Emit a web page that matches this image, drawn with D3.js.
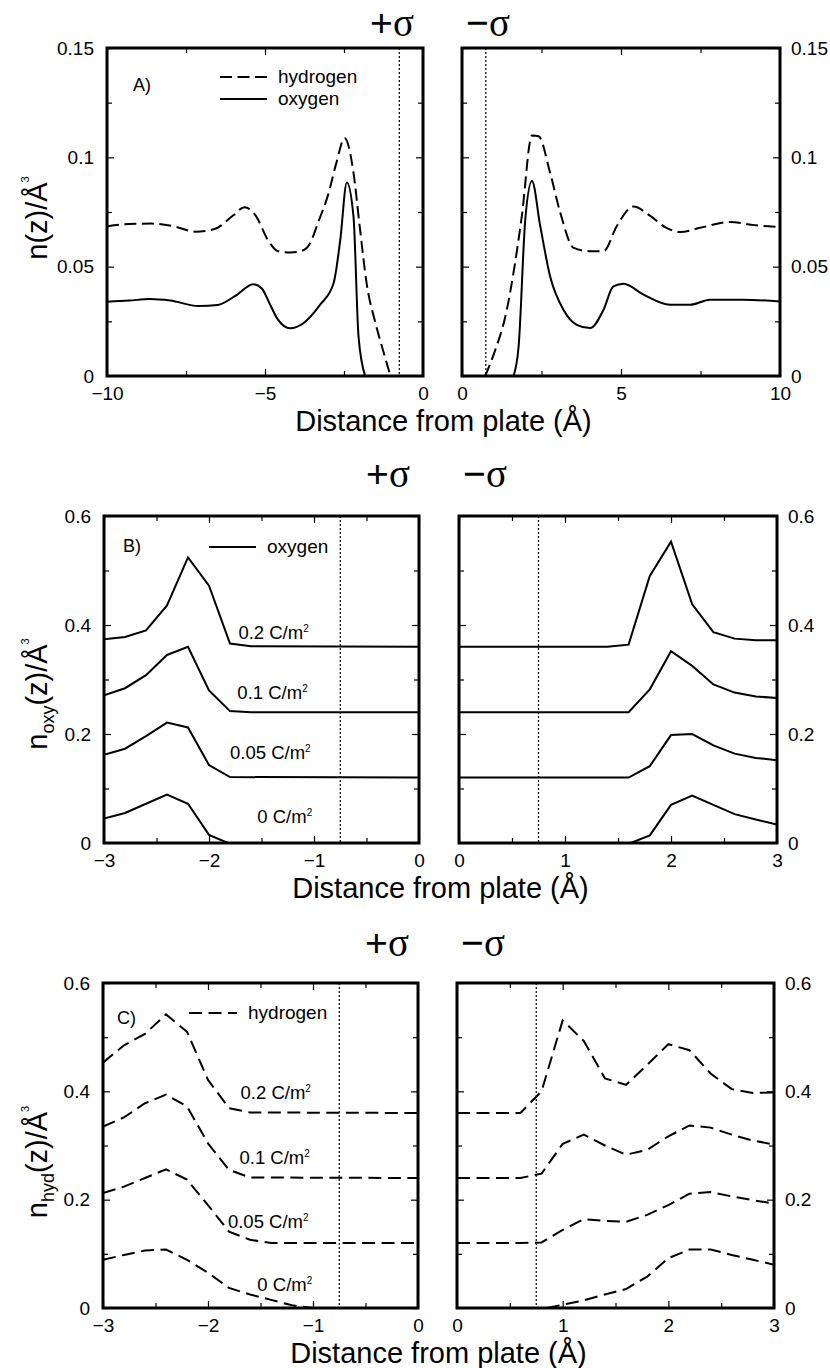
<!DOCTYPE html>
<html>
<head>
<meta charset="utf-8">
<script src="https://cdn.jsdelivr.net/npm/d3@7"></script>
<style>
  body { margin: 0; background: #fff; }
  svg text { font-family: "Liberation Sans", Arial, Helvetica, sans-serif; fill: #000; }
  .axis line { stroke: #000; stroke-width: 1.2; }
  .axis text { font-size: 19px; }
</style>
</head>
<body>
<svg id="chart" width="830" height="1368"></svg>
<script>
/* global d3 */

// ---- Data: panel A, water density vs distance (x in Angstrom, n in 1/A^3)
var aLeftHydrogen = [[-10,0.0684],[-9.3,0.0695],[-8.6,0.0697],[-7.9,0.0685],[-7.2,0.0660],[-6.6,0.0672],[-6.0,0.0735],
  [-5.65,0.0772],[-5.3,0.0735],[-4.9,0.0620],[-4.6,0.0572],[-4.2,0.0565],[-3.84,0.0572],[-3.6,0.060],[-3.3,0.071],
  [-3.0,0.083],[-2.75,0.097],[-2.48,0.1088],[-2.2,0.093],[-2.0,0.068],[-1.78,0.042],[-1.5,0.024],[-1.25,0.011],[-1.03,0]];
var aLeftOxygen = [[-10,0.034],[-9.3,0.0345],[-8.65,0.0352],[-8.0,0.0345],[-7.1,0.032],[-6.5,0.0325],[-5.9,0.037],
  [-5.37,0.042],[-5.1,0.040],[-4.85,0.033],[-4.6,0.026],[-4.2,0.0218],[-3.8,0.024],[-3.26,0.0325],[-2.83,0.0424],
  [-2.62,0.062],[-2.41,0.0885],[-2.2,0.073],[-2.04,0.018],[-1.83,0]];
var aRightHydrogen = [[0.73,0],[1.0,0.010],[1.41,0.0303],[1.65,0.050],[1.88,0.073],[2.2,0.110],[2.41,0.1096],[2.77,0.093],
  [3.09,0.0747],[3.51,0.0586],[4.0,0.0571],[4.45,0.0571],[4.87,0.0686],[5.39,0.0775],[5.92,0.0732],[6.4,0.068],
  [6.86,0.0658],[7.49,0.0678],[8.43,0.0704],[9.2,0.069],[10,0.0681]];
var aRightOxygen = [[1.62,0],[1.78,0.0135],[1.99,0.0716],[2.2,0.0892],[2.46,0.0686],[2.77,0.0456],[3.19,0.0303],
  [3.61,0.0234],[4.03,0.0219],[4.45,0.0303],[4.76,0.041],[5.08,0.0422],[5.71,0.0372],[6.54,0.0326],[7.17,0.0326],
  [7.8,0.0349],[8.85,0.0349],[10,0.0341]];

// ---- Data: panel B, oxygen density for four surface charges
var bLeft02  = [[-3,0.374],[-2.8,0.378],[-2.6,0.390],[-2.4,0.436],[-2.2,0.524],[-2.0,0.472],[-1.8,0.366],[-1.6,0.361],[0,0.36]];
var bLeft01  = [[-3,0.271],[-2.8,0.284],[-2.6,0.308],[-2.4,0.345],[-2.2,0.360],[-2.0,0.280],[-1.8,0.242],[-1.6,0.24],[0,0.24]];
var bLeft005 = [[-3,0.162],[-2.8,0.173],[-2.6,0.196],[-2.4,0.221],[-2.2,0.212],[-2.0,0.143],[-1.8,0.121],[0,0.12]];
var bLeft0   = [[-3,0.045],[-2.8,0.055],[-2.6,0.072],[-2.4,0.089],[-2.2,0.072],[-2.0,0.015],[-1.82,0]];
var bRight02  = [[0,0.36],[1.4,0.36],[1.6,0.364],[1.8,0.490],[2.0,0.553],[2.2,0.438],[2.4,0.387],[2.6,0.375],[2.8,0.372],[3.0,0.372]];
var bRight01  = [[0,0.24],[1.6,0.24],[1.8,0.282],[2.0,0.352],[2.2,0.325],[2.4,0.291],[2.6,0.276],[2.8,0.269],[3.0,0.266]];
var bRight005 = [[0,0.12],[1.6,0.12],[1.8,0.141],[2.0,0.198],[2.2,0.200],[2.4,0.179],[2.6,0.164],[2.8,0.156],[3.0,0.152]];
var bRight0   = [[1.62,0],[1.8,0.014],[2.0,0.070],[2.2,0.087],[2.4,0.070],[2.6,0.053],[2.8,0.043],[3.0,0.034]];

// ---- Data: panel C, hydrogen density for four surface charges
var cLeft02  = [[-3,0.453],[-2.8,0.485],[-2.6,0.506],[-2.4,0.542],[-2.2,0.510],[-2.0,0.421],[-1.8,0.369],[-1.6,0.361],[0,0.36]];
var cLeft01  = [[-3,0.335],[-2.8,0.352],[-2.6,0.378],[-2.4,0.394],[-2.2,0.372],[-2.0,0.304],[-1.8,0.255],[-1.6,0.241],[0,0.24]];
var cLeft005 = [[-3,0.212],[-2.8,0.224],[-2.6,0.240],[-2.4,0.256],[-2.2,0.237],[-2.0,0.190],[-1.8,0.141],[-1.6,0.126],[-1.4,0.12],[0,0.12]];
var cLeft0   = [[-3,0.089],[-2.8,0.098],[-2.6,0.106],[-2.4,0.108],[-2.2,0.089],[-2.0,0.065],[-1.8,0.037],[-1.6,0.025],[-1.4,0.015],[-1.2,0.005],[-1.0,0]];
var cRight02  = [[0,0.36],[0.6,0.36],[0.8,0.40],[1.0,0.531],[1.2,0.493],[1.4,0.424],[1.6,0.412],[1.8,0.449],[2.0,0.487],[2.2,0.476],[2.4,0.433],[2.6,0.404],[2.8,0.397],[3.0,0.398]];
var cRight01  = [[0,0.24],[0.6,0.24],[0.8,0.248],[1.0,0.303],[1.2,0.320],[1.4,0.300],[1.6,0.283],[1.8,0.292],[2.0,0.317],[2.2,0.337],[2.4,0.333],[2.6,0.320],[2.8,0.309],[3.0,0.302]];
var cRight005 = [[0,0.12],[0.6,0.12],[0.8,0.121],[1.0,0.144],[1.2,0.164],[1.4,0.161],[1.6,0.159],[1.8,0.172],[2.0,0.190],[2.2,0.211],[2.4,0.214],[2.6,0.206],[2.8,0.199],[3.0,0.193]];
var cRight0   = [[0.85,0],[1.0,0.006],[1.2,0.014],[1.4,0.025],[1.6,0.035],[1.8,0.058],[2.0,0.092],[2.2,0.108],[2.4,0.108],[2.6,0.098],[2.8,0.089],[3.0,0.080]];

// ---- Ticks and labels
var aXTicksLeft = [-10,-5,0], aXMinorLeft = [-7.5,-2.5];
var aXTicksRight = [0,5,10], aXMinorRight = [2.5,7.5];
var aYTicks = [0,0.05,0.1,0.15], aYMinor = [0.025,0.075,0.125];
var bcXTicksLeft = [-3,-2,-1,0], bcXMinorLeft = [-2.5,-1.5,-0.5];
var bcXTicksRight = [0,1,2,3], bcXMinorRight = [0.5,1.5,2.5];
var bcYTicks = [0,0.2,0.4,0.6], bcYMinor = [0.1,0.3,0.5];
var chargeLabels = ['0.2', '0.1', '0.05', '0'];
var plateEdge = 0.75;

var svg = d3.select('#chart');

var panels = [
  { top:48, bottom:376, left:[107,423], right:[462,780], xl:[-10,0], xr:[0,10], yd:[0,0.15],
    xtl:aXTicksLeft, xml:aXMinorLeft, xtr:aXTicksRight, xmr:aXMinorRight, yt:aYTicks, ym:aYMinor,
    curve:d3.curveMonotoneX, dash:'12,5.5', titleY:25, yLabelY:218, ySub:null,
    letter:'A)', letterPos:[26,37],
    legend:[{label:'hydrogen', dashed:true, dy:29}, {label:'oxygen', dashed:false, dy:51}], legendX:[113,160,171],
    series:[
      {side:'left', data:aLeftHydrogen, dashed:true}, {side:'left', data:aLeftOxygen, dashed:false},
      {side:'right', data:aRightHydrogen, dashed:true}, {side:'right', data:aRightOxygen, dashed:false}
    ], labels:null },
  { top:516, bottom:843, left:[104,419], right:[459,777], xl:[-3,0], xr:[0,3], yd:[0,0.6],
    xtl:bcXTicksLeft, xml:bcXMinorLeft, xtr:bcXTicksRight, xmr:bcXMinorRight, yt:bcYTicks, ym:bcYMinor,
    curve:d3.curveLinear, dash:null, titleY:476, yLabelY:694, ySub:'oxy',
    letter:'B)', letterPos:[19,30],
    legend:[{label:'oxygen', dashed:false, dy:31}], legendX:[105,152,163],
    series:[bLeft02,bLeft01,bLeft005,bLeft0].map(function(d){ return {side:'left', data:d, dashed:false}; })
      .concat([bRight02,bRight01,bRight005,bRight0].map(function(d){ return {side:'right', data:d, dashed:false}; })),
    labels:[[-1.72,0.385],[-1.73,0.275],[-1.80,0.165],[-1.54,0.048]] },
  { top:983, bottom:1308, left:[103,418], right:[457,774], xl:[-3,0], xr:[0,3], yd:[0,0.6],
    xtl:bcXTicksLeft, xml:bcXMinorLeft, xtr:bcXTicksRight, xmr:bcXMinorRight, yt:bcYTicks, ym:bcYMinor,
    curve:d3.curveLinear, dash:'13,6.5', titleY:945, yLabelY:1162, ySub:'hyd',
    letter:'C)', letterPos:[14,35],
    legend:[{label:'hydrogen', dashed:true, dy:30}], legendX:[86,134,145],
    series:[cLeft02,cLeft01,cLeft005,cLeft0].map(function(d){ return {side:'left', data:d, dashed:true}; })
      .concat([cRight02,cRight01,cRight005,cRight0].map(function(d){ return {side:'right', data:d, dashed:true}; })),
    labels:[[-1.69,0.397],[-1.70,0.277],[-1.81,0.159],[-1.53,0.042]] }
];

var fmt = d3.format('');

function addAxis(g, axis, tx, ty){
  g.append('g').attr('class','axis')
    .attr('transform','translate('+tx+','+ty+')')
    .call(axis)
    .call(function(s){ s.select('.domain').remove(); });
}

panels.forEach(function(p, pi){
  var g = svg.append('g');
  var y = d3.scaleLinear().domain(p.yd).range([p.bottom, p.top]);
  var scales = {};

  ['left','right'].forEach(function(side){
    var range = side === 'left' ? p.left : p.right;
    var x = d3.scaleLinear().domain(side === 'left' ? p.xl : p.xr).range(range);
    scales[side] = x;
    var xt = side === 'left' ? p.xtl : p.xtr;
    var xm = side === 'left' ? p.xml : p.xmr;

    //Ticks (all pointing inward)
    addAxis(g, d3.axisBottom(x).tickValues(xt).tickSize(-7).tickPadding(11).tickFormat(fmt), 0, p.bottom);
    addAxis(g, d3.axisBottom(x).tickValues(xm).tickSize(-5).tickFormat(''), 0, p.bottom);
    addAxis(g, d3.axisTop(x).tickValues(xt).tickSize(-7).tickFormat(''), 0, p.top);
    addAxis(g, d3.axisTop(x).tickValues(xm).tickSize(-5).tickFormat(''), 0, p.top);
    addAxis(g, d3.axisLeft(y).tickValues(p.yt).tickSize(-7).tickPadding(13).tickFormat(side === 'left' ? fmt : ''), range[0], 0);
    addAxis(g, d3.axisLeft(y).tickValues(p.ym).tickSize(-5).tickFormat(''), range[0], 0);
    addAxis(g, d3.axisRight(y).tickValues(p.yt).tickSize(-7).tickPadding(11).tickFormat(side === 'right' ? fmt : ''), range[1], 0);
    addAxis(g, d3.axisRight(y).tickValues(p.ym).tickSize(-5).tickFormat(''), range[1], 0);

    //Clip region
    var cid = 'clip' + pi + side;
    svg.append('clipPath').attr('id', cid).append('rect')
      .attr('x', range[0]).attr('y', p.top).attr('width', range[1] - range[0]).attr('height', p.bottom - p.top);

    var plot = g.append('g').attr('clip-path', 'url(#' + cid + ')');

    //Plate position (dotted)
    var xe = side === 'left' ? -plateEdge : plateEdge;
    plot.append('line')
      .attr('x1', x(xe)).attr('x2', x(xe)).attr('y1', p.top).attr('y2', p.bottom)
      .attr('stroke', '#000').attr('stroke-width', 1.2).attr('stroke-dasharray', '2,2');

    var line = d3.line().x(function(d){ return x(d[0]); }).y(function(d){ return y(d[1]); }).curve(p.curve);
    p.series.filter(function(s){ return s.side === side; }).forEach(function(s){
      plot.append('path').attr('d', line(s.data))
        .attr('fill', 'none').attr('stroke', '#000').attr('stroke-width', 2)
        .attr('stroke-dasharray', s.dashed ? p.dash : null);
    });

    //Frame
    g.append('rect').attr('x', range[0]).attr('y', p.top)
      .attr('width', range[1] - range[0]).attr('height', p.bottom - p.top)
      .attr('fill', 'none').attr('stroke', '#000').attr('stroke-width', 3);
  });

  //Titles +sigma / -sigma
  var t1 = g.append('text').attr('x', p.left[1] - 31).attr('y', p.titleY + 11).attr('text-anchor', 'middle').style('font-size', '39px');
  t1.append('tspan').text('+');
  t1.append('tspan').style('font-family', '"Liberation Serif", "DejaVu Serif", serif').text('σ');
  var t2 = g.append('text').attr('x', p.right[0] + 26).attr('y', p.titleY + 11).attr('text-anchor', 'middle').style('font-size', '39px');
  t2.append('tspan').text('−');
  t2.append('tspan').style('font-family', '"Liberation Serif", "DejaVu Serif", serif').text('σ');

  //X label
  g.append('text').attr('x', (p.left[0] + p.right[1]) / 2).attr('y', p.bottom + 55)
    .attr('text-anchor', 'middle').style('font-size', '29px').text('Distance from plate (Å)');

  //Y label
  var yl = g.append('text').attr('transform', 'translate(47,' + p.yLabelY + ') rotate(-90)')
    .attr('text-anchor', 'middle').style('font-size', '29px');
  yl.append('tspan').text('n');
  if(p.ySub){
    yl.append('tspan').attr('dy', 7).style('font-size', '18px').text(p.ySub);
    yl.append('tspan').attr('dy', -7).text('(z)/Å');
  }
  else yl.append('tspan').text('(z)/Å');
  yl.append('tspan').attr('dy', -18).style('font-size', '11px').text('3');

  //Panel letter
  g.append('text').attr('x', p.left[0] + p.letterPos[0]).attr('y', p.top + p.letterPos[1] + 6)
    .style('font-size', '18px').text(p.letter);

  //Legend
  p.legend.forEach(function(l){
    var ly = p.top + l.dy;
    g.append('line').attr('x1', p.left[0] + p.legendX[0]).attr('x2', p.left[0] + p.legendX[1])
      .attr('y1', ly).attr('y2', ly).attr('stroke', '#000').attr('stroke-width', 2)
      .attr('stroke-dasharray', l.dashed ? p.dash : null);
    g.append('text').attr('x', p.left[0] + p.legendX[2]).attr('y', ly + 6)
      .style('font-size', '19px').text(l.label);
  });

  //Surface charge labels
  if(p.labels){
    p.labels.forEach(function(pos, i){
      var t = g.append('text').attr('x', scales.left(pos[0])).attr('y', y(pos[1]) + 6).style('font-size', '18.5px');
      t.append('tspan').text(chargeLabels[i] + ' C/m');
      t.append('tspan').attr('dy', -7).style('font-size', '10px').text('2');
    });
  }
});
</script>
</body>
</html>
